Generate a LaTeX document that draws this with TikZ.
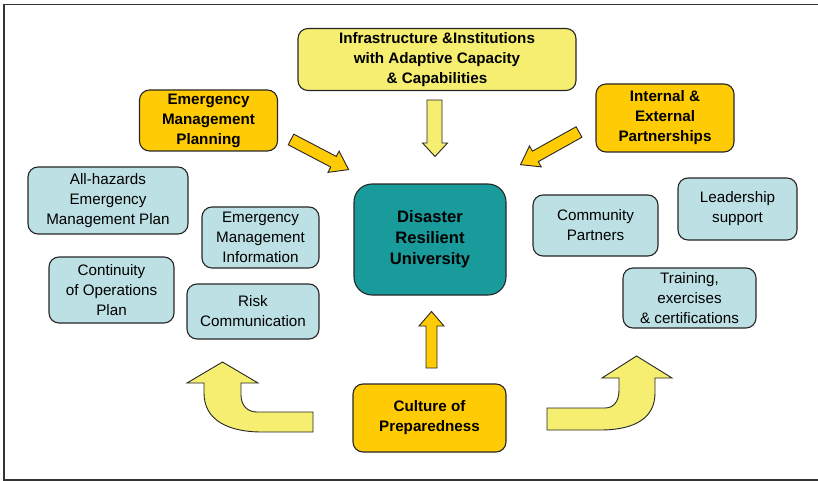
\documentclass[tikz,border=0pt]{standalone}
\usepackage{fontspec}
\setmainfont{Liberation Sans}
\definecolor{lightyellow}{HTML}{F5EE70}
\definecolor{gold}{HTML}{FFCB05}
\definecolor{teal}{HTML}{1A9B9B}
\definecolor{paleblue}{HTML}{BDE0E4}
\tikzset{
  box/.style={draw=black!85,line width=1.1pt,rounded corners=10pt,align=center,
    inner sep=1pt,font=\fontsize{15.2}{20}\selectfont},
  goldbox/.style={box,fill=gold,font=\fontsize{15.2}{20}\selectfont\bfseries},
  yellowbox/.style={box,fill=lightyellow,font=\fontsize{15.2}{20}\selectfont\bfseries},
  bluebox/.style={box,fill=paleblue},
  hubbox/.style={box,fill=teal,rounded corners=18pt,font=\fontsize{16.6}{21}\selectfont\bfseries},
  fatarrow/.style={draw=black!85,line width=0.9pt,fill=#1,line join=miter}
}
\begin{document}
\begin{tikzpicture}[x=1pt,y=-1pt]
\clip (0,0) rectangle (818,481);
\draw[black!80,line width=1.4pt] (4,4.5) rectangle (830,480);
% boxes round the hub
\node[yellowbox,minimum width=278pt,minimum height=62pt] (infra) at (437,59.5)
  {Infrastructure \&Institutions\\with Adaptive Capacity\\\& Capabilities};
\node[goldbox,minimum width=138pt,minimum height=61pt] (planning) at (208.5,120.5)
  {Emergency\\Management\\Planning};
\node[goldbox,minimum width=138pt,minimum height=68pt] (partnerships) at (665,118)
  {Internal \&\\External\\Partnerships};
\node[hubbox,minimum width=152pt,minimum height=111pt] (hub) at (430,239.5)
  {Disaster\\Resilient\\University};
\node[goldbox,minimum width=153pt,minimum height=68pt] (culture) at (429.5,418)
  {Culture of\\Preparedness};
% left group
\node[bluebox,minimum width=160pt,minimum height=67pt] (allhaz) at (108,200.5)
  {All-hazards\\Emergency\\Management Plan};
\node[bluebox,minimum width=117pt,minimum height=61pt] (eminfo) at (260.5,237.5)
  {Emergency\\Management\\Information};
\node[bluebox,minimum width=125pt,minimum height=66pt] (coop) at (111.5,290)
  {Continuity\\of Operations\\Plan};
\node[bluebox,minimum width=132pt,minimum height=55pt] (risk) at (253,311.5)
  {Risk\\Communication};
% right group
\node[bluebox,minimum width=125pt,minimum height=61pt] (community) at (595.5,225.5)
  {Community\\Partners};
\node[bluebox,minimum width=119pt,minimum height=62pt] (leader) at (737.5,209)
  {Leadership\\support};
\node[bluebox,minimum width=133pt,minimum height=60pt] (training) at (689.5,298)
  {Training,\\exercises\\\& certifications};
% straight arrows into the hub
\draw[fatarrow=lightyellow] (427,100)--(427,143)--(422.5,143)--(435,156.5)--(447.5,143)--(442,143)--(442,100)--cycle;
\draw[fatarrow=gold,shift={(291,139.5)},rotate=-27.6] (0,-6)--(48,-6)--(48,-12)--(65,0)--(48,12)--(48,6)--(0,6)--cycle;
\draw[fatarrow=gold,shift={(579,132)},rotate=-150.8] (0,-6)--(50,-6)--(50,-12)--(67,0)--(50,12)--(50,6)--(0,6)--cycle;
\draw[fatarrow=gold] (426,368)--(426,326)--(419,326)--(431.5,311.5)--(444,326)--(437,326)--(437,368)--cycle;
% bent arrows out of the culture box
\draw[fatarrow=lightyellow] (313,412)--(257,412) .. controls (247,412) and (241,405) .. (241,395)
  --(241,383)--(258,383)--(222.5,362)--(187,383)--(204,383)--(204,393)
  .. controls (204,420) and (228,432) .. (262,432)--(313,432)--cycle;
\draw[fatarrow=lightyellow] (547,408)--(605,408) .. controls (614,408) and (619,401) .. (619,390)
  --(619,378)--(602,378)--(636.5,356)--(672,378)--(655,378)--(655,393)
  .. controls (655,418) and (635,430) .. (600,430)--(547,430)--cycle;
\end{tikzpicture}
\end{document}
